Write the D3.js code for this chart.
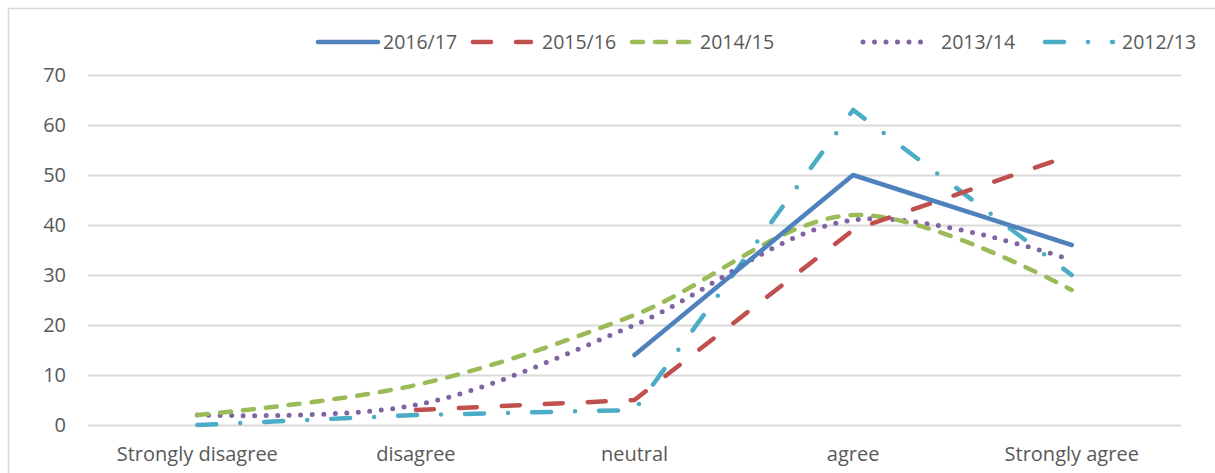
<!DOCTYPE html>
<meta charset="utf-8">
<script src="https://d3js.org/d3.v7.min.js"></script>
<style>
body { margin: 0; background: #fff; }
text { font-family: "Open Sans", sans-serif; fill: #595959; }
</style>
<div id="chart"></div>
<script>

// categories along the x axis
var categories = ["Strongly disagree", "disagree", "neutral", "agree", "Strongly agree"];

// series names (legend order)
var seriesNames = ["2016/17", "2015/16", "2014/15", "2013/14", "2012/13"];

// values per series, null = no data
var v2016 = [null, null, 14, 50, 36];
var v2015 = [null, 3, 5, 39, 54];
var v2014 = [2, 8, 22, 42, 27];
var v2013 = [2, 4, 20, 41, 33];
var v2012 = [0, 2, 3, 63, 30];

var yTicks = [0, 10, 20, 30, 40, 50, 60, 70];

var width = 1215, height = 473;
var margin = {top: 75, right: 34, bottom: 48, left: 88};

var svg = d3.select("#chart").append("svg")
  .attr("width", width)
  .attr("height", height);

// chart area border
svg.append("rect")
  .attr("x", 8.5).attr("y", 8.5)
  .attr("width", 1230).attr("height", 500)
  .attr("fill", "none")
  .attr("stroke", "#d9d9d9")
  .attr("stroke-width", 1.5);

var x = d3.scaleBand()
  .domain(categories)
  .range([margin.left, width - margin.right]);

var y = d3.scaleLinear()
  .domain([0, 70])
  .range([height - margin.bottom, margin.top]);

// gridlines
svg.append("g")
  .attr("transform", "translate(" + margin.left + ",0)")
  .call(d3.axisLeft(y).tickValues(yTicks).tickSize(-(width - margin.left - margin.right)).tickPadding(22))
  .call(function(g) { g.select(".domain").remove(); })
  .call(function(g) {
    g.selectAll("line").attr("stroke", "#d9d9d9").attr("stroke-width", 2);
    g.selectAll("text").style("font-size", "20px").attr("fill", "#595959");
  });

// x axis labels
svg.append("g")
  .attr("transform", "translate(0," + (height - margin.bottom) + ")")
  .call(d3.axisBottom(x).tickSize(0).tickPadding(22))
  .call(function(g) { g.select(".domain").remove(); })
  .call(function(g) {
    g.selectAll("text").style("font-size", "20px").attr("fill", "#595959");
  });

var series = [
  {name: seriesNames[0], values: v2016, color: "#4f81bd", dash: null, curve: d3.curveLinear, w: 4.5},
  {name: seriesNames[1], values: v2015, color: "#c0504d", dash: "18,25", curve: d3.curveLinear, w: 4.5},
  {name: seriesNames[2], values: v2014, color: "#9bbb59", dash: "11,12", curve: d3.curveCatmullRom, w: 4.5},
  {name: seriesNames[3], values: v2013, color: "#8064a2", dash: "0,11.5", curve: d3.curveCatmullRom, w: 5},
  {name: seriesNames[4], values: v2012, color: "#4bacc6", dash: "19,24,0,24", curve: d3.curveLinear, w: 4.5}
];

var cx = function(c) { return x(c) + x.bandwidth() / 2; };

// draw series in reverse so 2016/17 is on top
series.slice().reverse().forEach(function(s) {
  var pts = s.values.map(function(v, i) { return {c: categories[i], v: v}; })
    .filter(function(d) { return d.v !== null; });
  var line = d3.line()
    .x(function(d) { return cx(d.c); })
    .y(function(d) { return y(d.v); })
    .curve(s.curve);
  svg.append("path")
    .datum(pts)
    .attr("d", line)
    .attr("fill", "none")
    .attr("stroke", s.color)
    .attr("stroke-width", s.w)
    .attr("stroke-linecap", "round")
    .attr("stroke-linejoin", "round")
    .attr("stroke-dasharray", s.dash);
});

// legend: sample line start/end and label x for each entry
var legendLine = [[318, 378], [473, 531], [632, 689], [863, 927], [1045, 1113]];
var legendText = [383, 542, 700, 941, 1122];
var legend = svg.append("g").attr("transform", "translate(0,42)");
series.forEach(function(s, i) {
  legend.append("line")
    .attr("x1", legendLine[i][0]).attr("x2", legendLine[i][1])
    .attr("stroke", s.color)
    .attr("stroke-width", s.w)
    .attr("stroke-linecap", "round")
    .attr("stroke-dasharray", s.dash);
  legend.append("text")
    .attr("x", legendText[i])
    .attr("dy", "0.35em")
    .style("font-size", "19.5px")
    .text(s.name);
});

</script>
